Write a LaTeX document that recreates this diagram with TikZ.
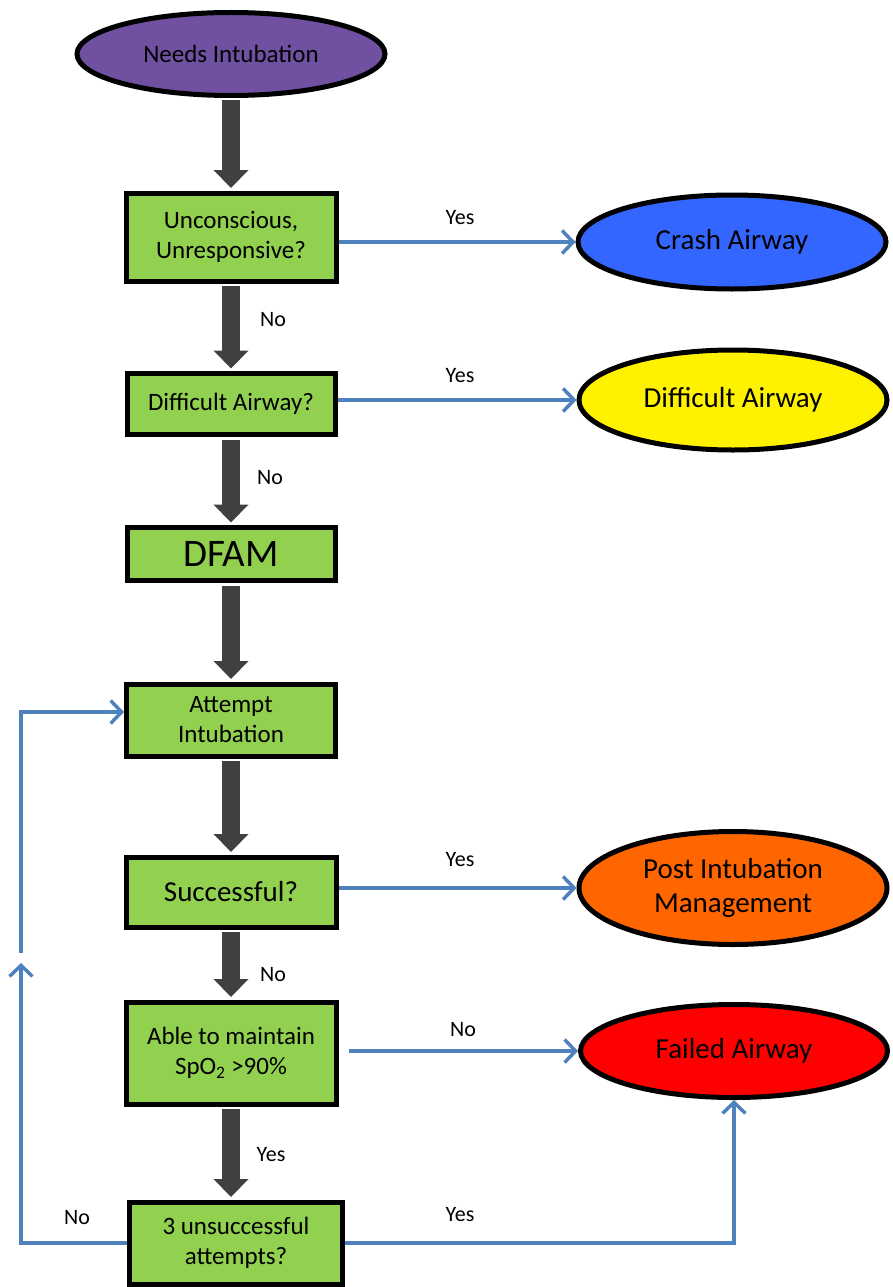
\documentclass[tikz,border=0pt]{standalone}
\usepackage{fontspec}
\setmainfont{Carlito}
\usetikzlibrary{arrows.meta,shapes.geometric}
\definecolor{boxgreen}{RGB}{146,208,80}
\definecolor{darkarrow}{RGB}{64,64,64}
\definecolor{linkblue}{RGB}{79,129,189}
\definecolor{startpurple}{RGB}{112,80,160}
\definecolor{crashblue}{RGB}{51,102,255}
\definecolor{postorange}{RGB}{255,102,0}
\begin{document}
\begin{tikzpicture}[x=1pt,y=-1pt,
  stepbox/.style={draw=black,line width=5pt,fill=boxgreen,inner sep=2pt,align=center,font=\fontsize{25}{30}\selectfont},
  outcome/.style={ellipse,draw=black,line width=5pt,minimum width=308pt,inner sep=0pt,align=center,font=\fontsize{29}{34}\selectfont},
  darrow/.style={draw=darkarrow,line width=18pt,shorten <=2.5pt,shorten >=2.5pt,-{Triangle[width=34pt,length=18pt]}},
  barrow/.style={draw=linkblue,line width=3.5pt,-{Straight Barb[length=11pt,width=23pt]}},
  tag/.style={font=\fontsize{22}{26}\selectfont}]
\useasboundingbox (0,0) rectangle (892,1287);
\clip (0,0) rectangle (892,1287);
\node [outcome,fill=startpurple,minimum height=83pt,font=\fontsize{25}{30}\selectfont] (need) at (231,54) {Needs Intubation};
\node [stepbox,minimum width=210pt,minimum height=88pt] (uncon) at (231,237) {Unconscious,\\Unresponsive?};
\node [stepbox,minimum width=208pt,minimum height=61pt] (diff) at (231,404) {Difficult Airway?};
\node [stepbox,minimum width=208pt,minimum height=53pt,font=\fontsize{39}{44}\selectfont] (dfam) at (231,554) {DFAM};
\node [stepbox,minimum width=209pt,minimum height=72pt] (attempt) at (231,720) {Attempt\\Intubation};
\node [stepbox,minimum width=210pt,minimum height=70pt,font=\fontsize{29}{34}\selectfont] (success) at (231,892) {Successful?};
\node [stepbox,minimum width=210pt,minimum height=102pt] (able) at (231,1053) {Able to maintain\\SpO\textsubscript{2} >90\%};
\node [stepbox,minimum width=213pt,minimum height=82pt] (three) at (236,1243) {3 unsuccessful\\attempts?};
\node [outcome,fill=crashblue,minimum height=94pt] (crash) at (732,242) {Crash Airway};
\node [outcome,fill=yellow,minimum height=100pt] (diffair) at (733,400) {Difficult Airway};
\node [outcome,fill=postorange,minimum height=113pt] (post) at (733,888) {Post Intubation\\Management};
\node [outcome,fill=red,minimum width=307pt,minimum height=93pt] (failed) at (734,1051) {Failed Airway};
\draw [darrow] (need.south) -- (uncon.north);
\draw [darrow] (uncon.south) -- (diff.north);
\draw [darrow] (diff.south) -- (dfam.north);
\draw [darrow] (dfam.south) -- (attempt.north);
\draw [darrow] (attempt.south) -- (success.north);
\draw [darrow] (success.south) -- (able.north);
\draw [darrow] (able.south) -- (able.south |- three.north);
\node [tag] (no1) at (273,320) {No};
\node [tag] (no2) at (270,478) {No};
\node [tag] (no3) at (273,975) {No};
\node [tag] (yes5) at (271,1155) {Yes};
\draw [barrow] (uncon.east |- crash) -- (crash);
\draw [barrow] (diff.east |- diffair) -- (diffair);
\draw [barrow] (success.east |- post) -- (post);
\draw [barrow,shorten <=10pt] (able.east |- failed) -- (failed);
\draw [barrow] (three.east) -| (failed.south);
\node [tag] (yes1) at (460,218) {Yes};
\node [tag] (yes2) at (460,376) {Yes};
\node [tag] (yes3) at (460,860) {Yes};
\node [tag] (no4) at (463,1030) {No};
\node [tag] (yes4) at (460,1215) {Yes};
\coordinate (loopbot) at (21,1243);
\coordinate (looptip) at (21,963);
\coordinate (loopgap) at (21,953);
\coordinate (looptop) at (21,712);
\draw [barrow] (three.west) -- (loopbot) -- (looptip);
\draw [barrow] (loopgap) -- (looptop) -- (looptop -| attempt.west);
\node [tag] (no5) at (77,1218) {No};
\end{tikzpicture}
\end{document}
